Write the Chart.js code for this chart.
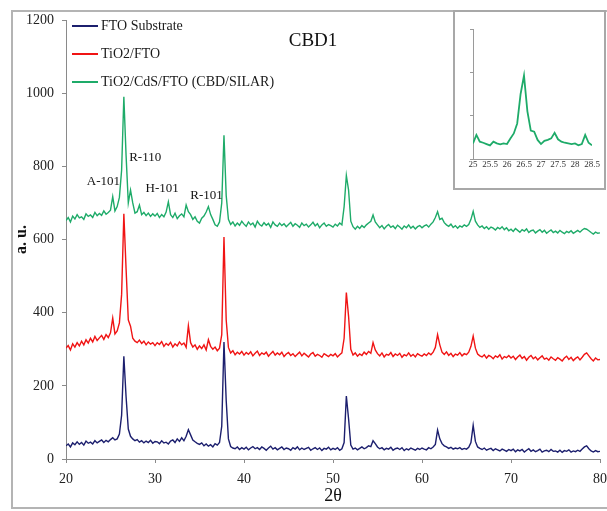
<!DOCTYPE html>
<html>
<head>
<meta charset="utf-8">
<script src="https://cdn.jsdelivr.net/npm/chart.js@4.4.1/dist/chart.umd.min.js"></script>
<style>
  html, body { margin: 0; padding: 0; background: #fff; }
  #wrap { position: relative; width: 607px; height: 511px; overflow: hidden; background: #fff; }
  #main { position: absolute; left: 0; top: 0; }
  #frame { position: absolute; left: 11px; top: 10px; width: 640px; height: 499px;
           border: 2px solid #b4b4b4; box-sizing: border-box; pointer-events: none; }
  #insetBox { position: absolute; left: 453px; top: 10px; width: 153px; height: 180px;
              border: 2px solid #a8a8a8; box-sizing: border-box; background: #fff; }
  #inset { position: absolute; left: 0; top: 0; }
</style>
</head>
<body>
<div id="wrap">
  <canvas id="main" width="607" height="511"></canvas>
  <div id="frame"></div>
  <div id="insetBox"><canvas id="inset" width="149" height="176"></canvas></div>
</div>
<script>
// XRD scans, 2θ from 20° to 80° sampled every 0.25°
const scanStart = 20;
const scanStep = 0.25;

const seriesNames = ['FTO Substrate', 'TiO2/FTO', 'TiO2/CdS/FTO (CBD/SILAR)'];

const ftoSubstrate = [
  36,41,33,44,39,47,40,45,38,49,43,46,41,50,44,48,52,45,51,47,
  53,58,52,55,68,120,281,170,82,62,55,50,53,46,50,44,49,45,51,43,
  48,47,42,50,44,46,41,49,52,45,55,48,58,50,62,80,66,52,47,43,
  40,44,36,41,35,39,33,42,38,45,90,320,160,55,34,30,28,33,26,31,
  27,32,25,30,34,28,31,26,33,29,24,30,35,27,31,25,29,33,26,30,
  28,24,31,27,33,25,30,26,29,32,24,28,31,26,30,23,29,27,32,25,
  29,26,31,24,28,45,172,110,38,27,30,25,29,33,28,31,36,34,50,42,
  33,28,31,25,29,27,32,24,28,30,26,31,23,28,25,30,27,24,29,26,
  30,27,25,31,28,33,40,79,55,42,36,33,29,32,27,30,28,31,26,29,
  27,32,45,92,48,33,29,26,30,24,27,29,23,28,25,22,27,24,21,26,
  23,27,20,25,22,26,19,24,28,21,25,20,23,27,19,22,24,20,26,21,
  22,19,24,18,23,21,25,19,22,20,24,21,27,33,36,28,22,19,23,20,
  21
];

const tio2Fto = [
  303,310,298,315,306,318,309,322,312,326,317,330,320,335,324,331,338,327,340,332,
  345,385,342,350,372,450,670,520,380,363,330,322,318,325,316,322,312,320,314,318,
  310,318,313,321,308,316,311,319,306,315,309,320,312,317,305,364,318,306,312,300,
  309,302,312,298,326,308,300,306,296,303,340,607,380,305,290,296,285,292,287,294,
  284,291,286,293,282,289,295,283,290,286,292,281,288,294,284,290,285,292,280,287,
  291,283,288,280,286,292,282,289,284,279,287,291,281,286,283,278,288,284,280,286,
  282,288,279,285,290,330,455,390,300,284,290,281,287,283,292,286,294,289,318,298,
  288,282,290,279,286,284,291,280,287,283,289,278,285,282,290,281,286,279,288,284,
  281,287,283,290,285,292,305,340,312,292,286,293,283,289,280,287,284,291,282,288,
  285,292,308,336,303,287,282,279,285,276,283,280,274,282,278,285,273,280,277,283,
  276,281,272,279,284,275,280,270,278,283,274,279,271,277,282,273,276,270,279,274,
  270,277,273,268,276,281,272,278,269,275,279,271,278,286,290,282,274,268,276,271,
  272
];

const tio2CdsFto = [
  652,660,648,664,656,668,659,662,655,670,663,667,660,674,665,671,666,678,669,674,
  680,717,678,690,715,790,990,830,700,735,700,672,676,694,668,674,665,672,663,670,
  664,671,660,668,662,675,703,668,660,672,657,665,670,662,694,676,668,655,662,650,
  645,658,664,675,690,668,655,640,636,648,700,885,720,655,641,648,637,645,639,650,
  642,636,648,640,645,634,650,641,637,646,639,644,633,648,640,636,645,638,643,635,
  641,647,636,643,639,633,645,638,642,634,640,647,637,643,632,640,645,636,641,638,
  634,642,637,645,640,690,775,735,650,635,628,636,630,638,633,640,645,650,667,648,
  640,632,638,629,636,641,633,637,630,639,634,628,637,632,640,631,636,629,635,638,
  632,637,640,634,642,648,660,676,655,658,646,640,636,642,633,638,631,637,634,640,
  636,641,655,677,650,640,633,637,630,635,628,634,631,626,633,629,635,627,632,624,
  628,622,630,625,620,627,623,629,619,624,626,618,623,627,620,625,617,622,626,619,
  623,618,625,620,616,622,619,624,617,621,625,620,626,630,628,624,619,615,620,617,
  618
];

// Fine scan of the CdS/TiO2 (110) region, 25.0° to 28.5° every 0.1°
const insetStart = 25;
const insetStep = 0.1;
const insetCds = [
  672,711,680,675,669,663,680,672,668,672,
  669,695,718,764,900,985,820,731,726,688,
  669,684,688,695,721,691,680,675,672,669,
  672,663,669,711,675,663
];

// Reflection labels placed at (2θ, intensity)
const peakLabels = ['A-101', 'R-110', 'H-101', 'R-101'];
const peakLabelX = [24.2, 28.9, 30.8, 35.8];
const peakLabelY = [757, 825, 738, 719];

const xTicks = { min: 20, max: 80, step: 10 };
const yTicks = { min: 0, max: 1200, step: 200 };

const colors = ['#1c1f6e', '#f01414', '#1eab69'];
const serif = "'Liberation Serif', 'Times New Roman', serif";

function toPoints(values, start, step) {
  return values.map((v, i) => ({ x: +(start + i * step).toFixed(2), y: v }));
}
const plainNumber = v => String(Math.round(v * 10) / 10);

const mainData = [ftoSubstrate, tio2Fto, tio2CdsFto];

const overlay = {
  id: 'overlay',
  afterDatasetsDraw(chart) {
    const { ctx, chartArea, scales } = chart;
    ctx.save();
    // legend with line markers
    ctx.font = '14px ' + serif;
    ctx.textBaseline = 'middle';
    ctx.textAlign = 'left';
    chart.data.datasets.forEach((ds, i) => {
      const y = chartArea.top + 6 + i * 28;
      ctx.strokeStyle = ds.borderColor;
      ctx.lineWidth = 2;
      ctx.beginPath();
      ctx.moveTo(chartArea.left + 6, y);
      ctx.lineTo(chartArea.left + 32, y);
      ctx.stroke();
      ctx.fillStyle = '#1a1a1a';
      ctx.fillText(ds.label, chartArea.left + 35, y);
    });
    // sample name
    ctx.font = '19px ' + serif;
    ctx.textAlign = 'center';
    ctx.fillStyle = '#111';
    ctx.fillText('CBD1', chartArea.left + 247, chartArea.top + 21);
    // reflection labels
    ctx.font = '13px ' + serif;
    peakLabels.forEach((t, i) => {
      ctx.fillText(t, scales.x.getPixelForValue(peakLabelX[i]), scales.y.getPixelForValue(peakLabelY[i]));
    });
    ctx.restore();
  }
};

new Chart(document.getElementById('main'), {
  type: 'line',
  data: {
    datasets: mainData.map((vals, i) => ({
      label: seriesNames[i],
      data: toPoints(vals, scanStart, scanStep),
      borderColor: colors[i],
      borderWidth: 1.4,
      pointRadius: 0,
      tension: 0,
      fill: false
    }))
  },
  options: {
    responsive: false,
    animation: false,
    devicePixelRatio: 1,
    layout: { autoPadding: false, padding: { top: 20, right: 7, left: 0, bottom: 0 } },
    plugins: { legend: { display: false }, tooltip: { enabled: false } },
    scales: {
      x: {
        type: 'linear',
        min: xTicks.min, max: xTicks.max,
        afterFit(s) { s.height = 52; s.paddingLeft = 0; s.paddingRight = 0; },
        ticks: { stepSize: xTicks.step, color: '#222', padding: 8, callback: plainNumber,
                 font: { family: serif, size: 14 } },
        grid: { drawOnChartArea: false, drawTicks: true, tickLength: 4, color: '#8a8a8a' },
        border: { display: true, color: '#8a8a8a', width: 1 },
        title: { display: true, text: '2θ', color: '#111', padding: { top: 0, bottom: 4 },
                 font: { family: serif, size: 18 } }
      },
      y: {
        type: 'linear',
        min: yTicks.min, max: yTicks.max,
        afterFit(s) { s.width = 66; s.paddingTop = 0; s.paddingBottom = 0; },
        ticks: { stepSize: yTicks.step, color: '#222', padding: 8, callback: plainNumber,
                 font: { family: serif, size: 14 } },
        grid: { drawOnChartArea: false, drawTicks: true, tickLength: 4, color: '#8a8a8a' },
        border: { display: true, color: '#8a8a8a', width: 1 },
        title: { display: true, text: 'a. u.', color: '#111', padding: { top: 12, bottom: 0 },
                 font: { family: serif, size: 16, weight: 'bold' } }
      }
    }
  },
  plugins: [overlay]
});

new Chart(document.getElementById('inset'), {
  type: 'line',
  data: {
    datasets: [{
      label: seriesNames[2],
      data: toPoints(insetCds, insetStart, insetStep),
      borderColor: colors[2],
      borderWidth: 1.8,
      pointRadius: 0,
      tension: 0
    }]
  },
  options: {
    responsive: false,
    animation: false,
    devicePixelRatio: 1,
    layout: { padding: { top: 17, right: 12, left: 0, bottom: 0 } },
    plugins: { legend: { display: false }, tooltip: { enabled: false } },
    scales: {
      x: {
        type: 'linear', min: 25, max: 28.5,
        afterFit(s) { s.height = 29; },
        ticks: { stepSize: 0.5, autoSkip: false, maxRotation: 0, minRotation: 0, padding: 0,
                 callback: plainNumber, color: '#333', font: { family: serif, size: 9 } },
        grid: { drawOnChartArea: false, drawTicks: false },
        border: { display: true, color: '#9a9a9a', width: 1 }
      },
      y: {
        type: 'linear', min: 600, max: 1200,
        afterFit(s) { s.width = 18; },
        ticks: { stepSize: 200, display: false },
        grid: { drawOnChartArea: false, drawTicks: true, tickLength: 3, color: '#9a9a9a' },
        border: { display: true, color: '#9a9a9a', width: 1 }
      }
    }
  }
});
</script>
</body>
</html>
